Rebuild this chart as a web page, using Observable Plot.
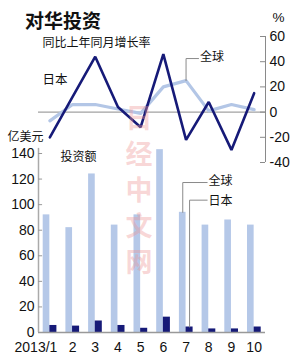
<!DOCTYPE html>
<html><head><meta charset="utf-8">
<script src="https://cdn.jsdelivr.net/npm/d3@7"></script>
<script src="https://cdn.jsdelivr.net/npm/@observablehq/plot@0.6"></script>
<style>
body{margin:0;background:#fff;}
#wrap{position:relative;width:300px;height:360px;overflow:hidden;background:#fff;font-family:"Liberation Sans","Noto Sans CJK SC",sans-serif;}
#wrap svg{position:absolute;left:0;top:0;}
#title{position:absolute;left:25px;top:10px;font:bold 19px/19px "Noto Sans CJK SC",sans-serif;color:#111;}
#wm{position:absolute;left:117px;top:99px;width:44px;text-align:center;font:bold 27px/36px "Noto Sans CJK SC",sans-serif;color:rgba(238,150,150,0.38);pointer-events:none;}
</style></head><body>
<div id="wrap"><div id="title">对华投资</div></div>
<script>
const months = [1,2,3,4,5,6,7,8,9,10];
const monthLabels = ["2013/1","2","3","4","5","6","7","8","9","10"];
const globalGrowth = [-7, 6, 6, 2.5, -1, 20, 25, 1, 6, 2];
const japanGrowth = [-20, 12, 44, 4, -12, 46, -22, 8, -30, 15];
const globalInvest = [92, 82, 124, 84, 92, 143, 94, 84, 88, 84];
const japanInvest = [5.5, 5, 9, 5.5, 3.3, 12, 4.3, 2.8, 2.8, 4.3];
const topTicks = [60, 40, 20, 0, -20, -40];
const bottomTicks = [0, 20, 40, 60, 80, 100, 120, 140];

const dark = "#161a78", light = "#b5c8e8", lightLine = "#b3c6e6", gray = "#8a8a8a";
const font = '"Liberation Sans","Noto Sans CJK SC",sans-serif';
const rows = months.map((m, i) => ({m, gG: globalGrowth[i], jG: japanGrowth[i], gI: globalInvest[i], jI: japanInvest[i], label: monthLabels[i]}));
const style = {background: "transparent", fontFamily: font, fontSize: "14px", color: "#111", overflow: "visible"};
const wrap = document.getElementById("wrap");

const topChart = Plot.plot({
  width: 300, height: 360, marginTop: 36, marginBottom: 198, marginLeft: 38, marginRight: 35,
  x: {domain: [0.5, 10.5], axis: null},
  y: {domain: [-40, 60], axis: null},
  style,
  marks: [
    Plot.ruleY([0], {x1: 0.5, x2: 10.5, stroke: gray, strokeWidth: 1}),
    Plot.ruleX([10.5], {y1: -40, y2: 60, stroke: gray, strokeWidth: 1}),
    Plot.ruleY(topTicks, {x1: 10.28, x2: 10.5, stroke: gray, strokeWidth: 1}),
    Plot.text(topTicks, {x: 10.5, y: d => d, text: d => String(d), dx: 4, textAnchor: "start", fontSize: 14, fill: "#111"}),
    Plot.text(["%"], {x: 10.5, y: 75, dx: 7, textAnchor: "start", fontSize: 13.5, fill: "#111"}),
    Plot.line(rows, {x: "m", y: "gG", stroke: lightLine, strokeWidth: 3.2, strokeLinejoin: "round"}),
    Plot.line(rows, {x: "m", y: "jG", stroke: dark, strokeWidth: 2.6, strokeLinejoin: "miter"}),
    Plot.line([[7, globalGrowth[6]], [7, 42.5], [7.55, 42.5]], {stroke: gray, strokeWidth: 1}),
    Plot.text(["全球"], {x: 7.62, y: 43.5, textAnchor: "start", fontSize: 12, fill: "#111"}),
    Plot.text(["同比上年同月增长率"], {x: 0.68, y: 54.5, textAnchor: "start", fontSize: 12, fill: "#111"}),
    Plot.text(["日本"], {x: 0.68, y: 25.5, textAnchor: "start", fontSize: 12.5, fill: "#111"})
  ]
});
wrap.appendChild(topChart);

const bottomChart = Plot.plot({
  width: 300, height: 360, marginTop: 153, marginBottom: 28, marginLeft: 38, marginRight: 35,
  x: {domain: [0.5, 10.5], axis: null},
  y: {domain: [0, 140], axis: null},
  style,
  marks: [
    Plot.rectY(rows, {x1: d => d.m - 0.5, x2: d => d.m + 0.5, y: "gI", fill: light, insetLeft: 4.7, insetRight: 11.35}),
    Plot.rectY(rows, {x1: d => d.m - 0.5, x2: d => d.m + 0.5, y: "jI", fill: dark, insetLeft: 11.35, insetRight: 4.3}),
    Plot.ruleY([0], {x1: 0.5, x2: 10.5, stroke: "#999", strokeWidth: 1.5}),
    Plot.ruleX([0.5], {y1: 0, y2: 144, stroke: "#aaa", strokeWidth: 1.5}),
    Plot.ruleY(bottomTicks, {x1: 0.5, x2: 0.68, stroke: "#999", strokeWidth: 1}),
    Plot.text(bottomTicks, {x: 0.5, y: d => d, text: d => String(d), dx: -4, textAnchor: "end", fontSize: 14, fill: "#111"}),
    Plot.text(rows.slice(1), {x: "m", y: 0, text: "label", dy: 15.5, fontSize: 14, fill: "#111"}),
    Plot.text(rows.slice(0, 1), {x: "m", y: 0, text: "label", dy: 15.5, dx: 7.5, textAnchor: "end", fontSize: 14, fill: "#111"}),
    Plot.line([[6.855, globalInvest[6]], [6.855, 117.3], [7.93, 117.3]], {stroke: gray, strokeWidth: 1}),
    Plot.line([[7.155, japanInvest[6]], [7.155, 103.5], [7.93, 103.5]], {stroke: gray, strokeWidth: 1}),
    Plot.text(["全球"], {x: 7.99, y: 118.5, textAnchor: "start", fontSize: 12, fill: "#111"}),
    Plot.text(["日本"], {x: 7.99, y: 102.5, textAnchor: "start", fontSize: 12, fill: "#111"}),
    Plot.text(["亿美元"], {x: -0.87, y: 152.5, textAnchor: "start", fontSize: 12, fill: "#111"}),
    Plot.text(["投资额"], {x: 1.47, y: 137.5, textAnchor: "start", fontSize: 12, fill: "#111"})
  ]
});
wrap.appendChild(bottomChart);

const wm = document.createElement("div");
wm.id = "wm";
wm.innerHTML = "日<br>经<br>中<br>文<br>网";
wrap.appendChild(wm);
</script>
</body></html>
